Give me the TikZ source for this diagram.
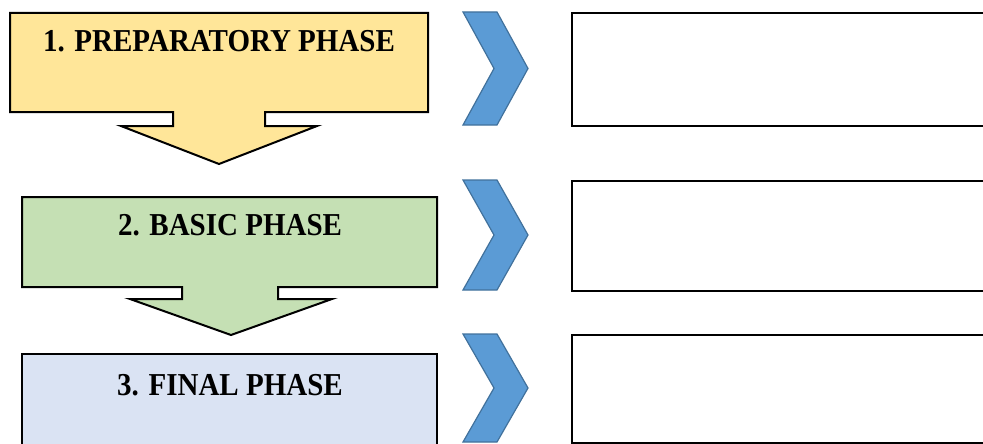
\documentclass[tikz,border=0pt]{standalone}
\usepackage{fontspec}
\setmainfont{Liberation Serif}
\usetikzlibrary{positioning,calc}
\definecolor{prepyellow}{HTML}{FFE699}
\definecolor{basicgreen}{HTML}{C5E0B4}
\definecolor{finalblue}{HTML}{DAE3F3}
\definecolor{chevblue}{HTML}{5B9BD5}
\definecolor{chevedge}{HTML}{41719C}
\newcommand{\phasetext}[1]{\scalebox{1}[1.1]{#1}}

\begin{document}
\begin{tikzpicture}[x=1pt, y=-1pt,
    phase/.style={draw=black, line width=2pt, line join=miter},
    title/.style={font=\fontsize{29}{32}\selectfont\bfseries, inner sep=0pt, anchor=base},
    note/.style={draw=black, line width=2pt, fill=white, anchor=north west, minimum width=430, minimum height=#1, inner sep=0pt},
    chev/.style={fill=chevblue, draw=chevedge, line width=1.2pt, line join=miter}
]
    \useasboundingbox (0,0) rectangle (983,444);

    % Phase 1: preparatory
    \draw[phase, fill=prepyellow] (10,13) -- (428,13) -- (428,112) -- (265,112) -- (265,126) -- (317,126)
        -- (219,164) -- (121,126) -- (173,126) -- (173,112) -- (10,112) -- cycle;
    \node[title] (prep) at (219,52) {\phasetext{1. PREPARATORY PHASE}};

    % Phase 2: basic
    \draw[phase, fill=basicgreen] (22,197) -- (437,197) -- (437,287) -- (278,287) -- (278,299) -- (332,299)
        -- (231,335) -- (130,299) -- (182,299) -- (182,287) -- (22,287) -- cycle;
    \node[title] (basic) at (230,235) {\phasetext{2. BASIC PHASE}};

    % Phase 3: final
    \draw[phase, fill=finalblue] (22,354) rectangle (437,448);
    \node[title] (final) at (230,395) {\phasetext{3. FINAL PHASE}};

    % Chevrons
    \foreach \t/\b in {12/125, 180/290, 334/442}
        \draw[chev] (463,\t) -- (497,\t) -- (528,{(\t+\b)/2}) -- (497,\b) -- (463,\b) -- (494,{(\t+\b)/2}) -- cycle;

    % Empty boxes right
    \node[note=113] (prepnote) at (571,12) {};
    \node[note=110] (basicnote) at (571,180) {};
    \node[note=108] (finalnote) at (571,334) {};

\end{tikzpicture}
\end{document}
